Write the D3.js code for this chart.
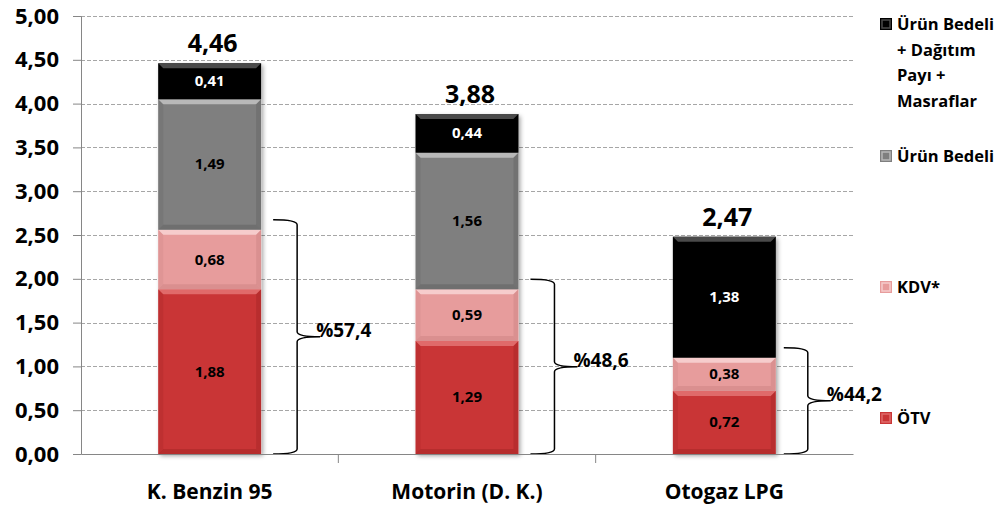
<!DOCTYPE html>
<html>
<head>
<meta charset="utf-8">
<script src="https://cdn.jsdelivr.net/npm/d3@7"></script>
<style>
  body { margin: 0; background: #fff; }
  svg { font-family: "Open Sans", sans-serif; font-weight: bold; }
</style>
</head>
<body>
<svg id="chart" width="1004" height="507"></svg>
<script>
const categories = ["K. Benzin 95", "Motorin (D. K.)", "Otogaz LPG"]
const otv      = [1.88, 1.29, 0.72]
const kdv      = [0.68, 0.59, 0.38]
const urun     = [1.49, 1.56, 0]
const dagitim  = [0.41, 0.44, 1.38]
const totals   = ["4,46", "3,88", "2,47"]
const shares   = ["%57,4", "%48,6", "%44,2"]
const yTicks   = [0, 0.5, 1, 1.5, 2, 2.5, 3, 3.5, 4, 4.5, 5]

const seriesKeys  = ["otv", "kdv", "urun", "dagitim"]
const legendNames = {
  dagitim: ["Ürün Bedeli", "+ Dağıtım", "Payı +", "Masraflar"],
  urun: ["Ürün Bedeli"],
  kdv: ["KDV*"],
  otv: ["ÖTV"]
}
const colors = {
  otv:     { base: "#c93536", light: "#e06a6a", dark: "#a02324", text: "#000" },
  kdv:     { base: "#e79c9c", light: "#f6cccc", dark: "#c98080", text: "#000" },
  urun:    { base: "#7f7f7f", light: "#b8b8b8", dark: "#5e5e5e", text: "#000" },
  dagitim: { base: "#000000", light: "#4a4a4a", dark: "#000000", text: "#fff" }
}

const rows = categories.map((c, i) => ({
  cat: c, otv: otv[i], kdv: kdv[i], urun: urun[i], dagitim: dagitim[i]
}))
const stacked = d3.stack().keys(seriesKeys)(rows)

const svg = d3.select("#chart")
const pLeft = 81, pRight = 853, pTop = 16, pBottom = 454
const FONT = "'Open Sans', sans-serif"

const x = d3.scaleBand().domain(categories).range([pLeft, pRight]).paddingInner(0.6).paddingOuter(0.3)
const xb = d3.scaleBand().domain(categories).range([pLeft, pRight])
const y = d3.scaleLinear().domain([0, 5]).range([pBottom, pTop])

// drop shadow
const defs = svg.append("defs")
const f = defs.append("filter").attr("id", "shadow").attr("x", "-10%").attr("y", "-10%").attr("width", "130%").attr("height", "130%")
f.append("feDropShadow").attr("dx", 2).attr("dy", 2).attr("stdDeviation", 2).attr("flood-color", "#000").attr("flood-opacity", 0.35)

// grid
svg.append("g").selectAll("line")
  .data(yTicks.filter(d => d > 0)).enter().append("line")
  .attr("x1", pLeft).attr("x2", pRight)
  .attr("y1", d => Math.round(y(d)) + 0.5).attr("y2", d => Math.round(y(d)) + 0.5)
  .attr("stroke", "#a6a6a6").attr("stroke-dasharray", "4,2")

// bars
const segs = []
stacked.forEach(s => s.forEach((d, i) => {
  if (d[1] - d[0] > 0) segs.push({ key: s.key, i, y0: d[0], y1: d[1], v: d[1] - d[0] })
}))
const barTotal = i => otv[i] + kdv[i] + urun[i] + dagitim[i]

const bars = svg.append("g")
bars.selectAll("rect.shadow")
  .data(categories).enter().append("rect")
  .attr("x", c => x(c)).attr("width", x.bandwidth())
  .attr("y", (c, i) => y(barTotal(i)))
  .attr("height", (c, i) => y(0) - y(barTotal(i)))
  .attr("fill", "#fff").attr("filter", "url(#shadow)")

const bev = 5
const g = bars.selectAll("g.seg").data(segs).enter().append("g")
g.each(function (d) {
  const el = d3.select(this)
  const c = colors[d.key]
  const x0 = x(categories[d.i]), x1 = x0 + x.bandwidth()
  const t = y(d.y1), b = y(d.y0)
  el.append("rect").attr("x", x0).attr("y", t).attr("width", x1 - x0).attr("height", b - t).attr("fill", c.base)
  // top bevel
  el.append("path").attr("d", `M${x0},${t} L${x1},${t} L${x1 - bev},${t + bev} L${x0 + bev},${t + bev} Z`).attr("fill", c.light)
  // side and bottom bevels
  el.append("path").attr("d", `M${x0},${t} L${x0 + bev},${t + bev} L${x0 + bev},${b - bev} L${x0},${b} Z`).attr("fill", c.dark).attr("opacity", 0.25)
  el.append("path").attr("d", `M${x1},${t} L${x1 - bev},${t + bev} L${x1 - bev},${b - bev} L${x1},${b} Z`).attr("fill", c.dark).attr("opacity", 0.4)
  el.append("path").attr("d", `M${x0},${b} L${x0 + bev},${b - bev} L${x1 - bev},${b - bev} L${x1},${b} Z`).attr("fill", c.dark).attr("opacity", 0.45)
  el.append("text")
    .attr("x", (x0 + x1) / 2).attr("y", (t + b) / 2 + 5)
    .attr("text-anchor", "middle").attr("font-size", 15).attr("fill", c.text)
    .text(d3.format(".2f")(d.v).replace(".", ","))
})

// totals
svg.append("g").selectAll("text")
  .data(categories).enter().append("text")
  .attr("x", c => x(c) + x.bandwidth() / 2 + 3)
  .attr("y", (c, i) => y(barTotal(i)) - 11)
  .attr("text-anchor", "middle").attr("font-size", 25).attr("fill", "#000")
  .text((c, i) => totals[i])

// braces
const braceX = [12, 36, 59]
categories.forEach((c, i) => {
  const shift = i === 2 ? 4 : 0
  const bx0 = x(c) + x.bandwidth() + braceX[0] - shift
  const bx1 = x(c) + x.bandwidth() + braceX[1] - shift
  const bx2 = x(c) + x.bandwidth() + braceX[2] - shift
  const y0 = y(otv[i] + kdv[i]) - 10, y1 = y(0), ym = (y0 + y1) / 2, r = 5
  svg.append("path")
    .attr("d", `M${bx0},${y0} Q${bx1},${y0} ${bx1},${y0 + r} L${bx1},${ym - r} Q${bx1},${ym} ${bx2},${ym} Q${bx1},${ym} ${bx1},${ym + r} L${bx1},${y1 - r} Q${bx1},${y1} ${bx0},${y1}`)
    .attr("fill", "none").attr("stroke", "#000").attr("stroke-width", 1.5)
  svg.append("text")
    .attr("x", bx2 - 4).attr("y", ym)
    .attr("font-size", 19).attr("fill", "#000")
    .text(shares[i])
})

// axes
const yAxis = svg.append("g").attr("transform", `translate(${pLeft},0)`)
  .call(d3.axisLeft(y).tickValues(yTicks).tickSize(8).tickPadding(14).tickFormat(d => d3.format(".2f")(d).replace(".", ",")))
yAxis.select(".domain").attr("stroke", "#868686")
yAxis.selectAll(".tick line").attr("stroke", "#868686")
yAxis.selectAll("text").attr("font-size", 22).attr("font-family", FONT).attr("font-weight", "bold").attr("fill", "#000")

const xAxis = svg.append("g").attr("transform", `translate(0,${pBottom})`)
  .call(d3.axisBottom(xb).tickSize(0).tickPadding(30))
xAxis.select(".domain").attr("stroke", "#868686")
xAxis.selectAll("text").attr("font-size", 21).attr("font-family", FONT).attr("font-weight", "bold").attr("fill", "#000")
xAxis.selectAll("line.sep")
  .data(categories.slice(1)).enter().append("line")
  .attr("x1", c => xb(c)).attr("x2", c => xb(c)).attr("y1", 0).attr("y2", 9)
  .attr("stroke", "#868686")

// legend
const legendY = { dagitim: 24, urun: 156, kdv: 287, otv: 418 }
const lg = svg.append("g")
;["dagitim", "urun", "kdv", "otv"].forEach(k => {
  const c = colors[k]
  const cy = legendY[k]
  lg.append("rect").attr("x", 880).attr("y", cy - 6).attr("width", 12).attr("height", 12).attr("fill", c.base)
  lg.append("rect").attr("x", 882).attr("y", cy - 4).attr("width", 8).attr("height", 8).attr("fill", "none").attr("stroke", c.light).attr("stroke-width", 1.5)
  legendNames[k].forEach((line, j) => {
    lg.append("text").attr("x", 897).attr("y", cy + 6 + j * 25.5)
      .attr("font-size", 16.5).attr("fill", "#000").text(line)
  })
})
</script>
</body>
</html>
